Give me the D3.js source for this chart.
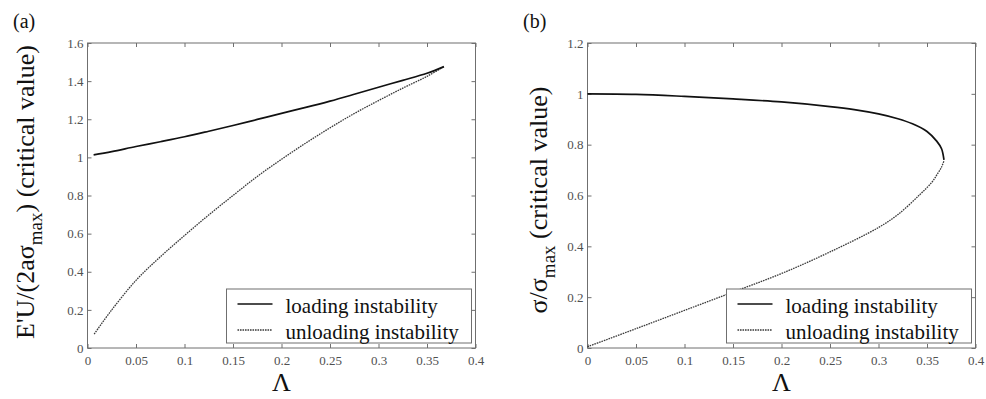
<!DOCTYPE html>
<html>
<head>
<meta charset="utf-8">
<script src="https://cdn.jsdelivr.net/npm/d3@7"></script>
<style>
  body { margin: 0; background: #fff; }
  svg, svg text { font-family: "Liberation Serif", "Times New Roman", serif; }
</style>
</head>
<body>
<svg id="chart" width="986" height="399"></svg>
<script>
// Lambda values along the x axis (shared domain for both panels)
var xTicks = [0, 0.05, 0.1, 0.15, 0.2, 0.25, 0.3, 0.35, 0.4];
var yTicksA = [0, 0.2, 0.4, 0.6, 0.8, 1, 1.2, 1.4, 1.6];
var yTicksB = [0, 0.2, 0.4, 0.6, 0.8, 1, 1.2];
var seriesNames = ["loading instability", "unloading instability"];

// (a) critical displacement as [Lambda, value]
var aLoading = [
  [0.0063, 1.013], [0.025, 1.03], [0.05, 1.057], [0.075, 1.082], [0.1, 1.108],
  [0.125, 1.137], [0.15, 1.167], [0.175, 1.199], [0.2, 1.231], [0.225, 1.262],
  [0.25, 1.295], [0.275, 1.331], [0.3, 1.368], [0.325, 1.404], [0.35, 1.441], [0.3675, 1.476]
];
var aUnloading = [
  [0.0069, 0.073], [0.025, 0.2], [0.05, 0.355], [0.075, 0.478], [0.1, 0.59],
  [0.125, 0.698], [0.15, 0.8], [0.175, 0.9], [0.2, 0.99], [0.225, 1.075],
  [0.25, 1.155], [0.275, 1.23], [0.3, 1.298], [0.325, 1.363], [0.35, 1.425], [0.3675, 1.476]
];

// (b) critical stress as [Lambda, value]
var bLoading = [
  [0, 1.0], [0.05, 0.998], [0.1, 0.99], [0.15, 0.98], [0.2, 0.968], [0.25, 0.95],
  [0.275, 0.938], [0.3, 0.921], [0.32, 0.902], [0.335, 0.882], [0.35, 0.852],
  [0.36, 0.814], [0.365, 0.784], [0.3675, 0.74]
];
var bUnloading = [
  [0, 0.005], [0.05, 0.076], [0.1, 0.148], [0.15, 0.22], [0.2, 0.293], [0.25, 0.378],
  [0.3, 0.474], [0.32, 0.525], [0.343, 0.605], [0.355, 0.652], [0.3606, 0.684],
  [0.365, 0.712], [0.3675, 0.736]
];

var svg = d3.select("#chart");
var fmt = d3.format("~g");
var serif = "'Liberation Serif', 'Times New Roman', serif";

function drawPanel(opt) {
  var x = d3.scaleLinear().domain([0, 0.4]).range([opt.left, opt.right]);
  var y = d3.scaleLinear().domain([0, opt.yMax]).range([opt.bottom, opt.top]);
  var g = svg.append("g");

  // frame with inward ticks on all four sides (matlab style)
  g.append("rect")
    .attr("x", opt.left).attr("y", opt.top)
    .attr("width", opt.right - opt.left).attr("height", opt.bottom - opt.top)
    .attr("fill", "none").attr("stroke", "#6f6f6f").attr("stroke-width", 1);

  var axes = [
    [d3.axisBottom(x), opt.bottom, 0, true],
    [d3.axisTop(x), opt.top, 0, false],
    [d3.axisLeft(y), 0, opt.left, true],
    [d3.axisRight(y), 0, opt.right, false]
  ];
  axes.forEach(function(a, i) {
    var ax = a[0].tickValues(i < 2 ? xTicks : opt.yTicks)
      .tickSizeInner(-4).tickSizeOuter(0)
      .tickFormat(a[3] ? fmt : "");
    var ag = g.append("g").attr("transform", "translate(" + a[2] + "," + a[1] + ")").call(ax)
      .attr("font-family", serif).attr("font-size", 13);
    ag.select(".domain").remove();
    ag.selectAll(".tick line").attr("stroke", "#6f6f6f");
    ag.selectAll(".tick text")
      .attr("fill", "#505050")
      .attr("font-family", serif)
      .attr("font-size", 13);
    if (i === 0) ag.selectAll(".tick text").attr("y", 8);
    if (i === 2) ag.selectAll(".tick text").attr("x", -4);
  });

  var line = d3.line().x(d => x(d[0])).y(d => y(d[1])).curve(d3.curveCatmullRom.alpha(0.5));

  g.append("path").datum(opt.unloading).attr("d", line)
    .attr("fill", "none").attr("stroke", "#3a3a3a").attr("stroke-width", 1.3)
    .attr("stroke-dasharray", "1.6,0.9");
  g.append("path").datum(opt.loading).attr("d", line)
    .attr("fill", "none").attr("stroke", "#111").attr("stroke-width", 1.7);

  // legend
  var lg = g.append("g").attr("transform", "translate(" + (opt.left + 139) + ",289)");
  lg.append("rect").attr("width", 245).attr("height", 54)
    .attr("fill", "#fff").attr("stroke", "#6f6f6f");
  seriesNames.forEach(function(name, i) {
    var ly = 15 + i * 26;
    lg.append("line").attr("x1", 11).attr("x2", 46).attr("y1", ly).attr("y2", ly)
      .attr("stroke", i ? "#3a3a3a" : "#111")
      .attr("stroke-width", i ? 1.3 : 1.7)
      .attr("stroke-dasharray", i ? "1.6,0.9" : null);
    lg.append("text").attr("x", 59).attr("y", ly + 8.5)
      .attr("font-family", serif).attr("font-size", 21).attr("fill", "#111").text(name);
  });

  // x label
  svg.append("text")
    .attr("x", (opt.left + opt.right) / 2).attr("y", 391)
    .attr("text-anchor", "middle").attr("font-family", serif)
    .attr("font-size", 26).attr("fill", "#111")
    .text("\u039B");

  // y label with subscript
  var yl = svg.append("text")
    .attr("transform", "translate(" + opt.labelX + "," + opt.labelY + ") rotate(-90)")
    .attr("text-anchor", "middle").attr("font-family", serif)
    .attr("font-size", 26).attr("fill", "#111");
  yl.append("tspan").text(opt.labelPre);
  yl.append("tspan").attr("font-size", 19).attr("dy", 8).text("max");
  yl.append("tspan").attr("dy", -8).text(opt.labelPost);

  // panel tag
  svg.append("text").attr("x", opt.tagX).attr("y", 28)
    .attr("font-family", serif).attr("font-size", 20).attr("fill", "#111").text(opt.tag);
}

drawPanel({
  left: 87.5, right: 475.5, top: 43, bottom: 348, yMax: 1.6, yTicks: yTicksA,
  loading: aLoading, unloading: aUnloading,
  labelX: 33.5, labelY: 192, labelPre: "E'U/(2a\u03C3", labelPost: ") (critical value)",
  tag: "(a)", tagX: 13
});

drawPanel({
  left: 587.5, right: 975.5, top: 43, bottom: 348, yMax: 1.2, yTicks: yTicksB,
  loading: bLoading, unloading: bUnloading,
  labelX: 547, labelY: 200, labelPre: "\u03C3/\u03C3", labelPost: " (critical value)",
  tag: "(b)", tagX: 523
});
</script>
</body>
</html>
